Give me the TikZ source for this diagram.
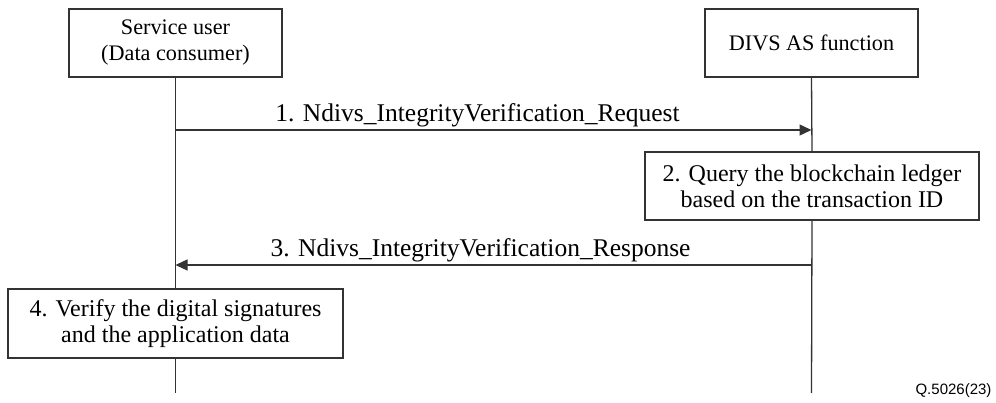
\documentclass[tikz,border=0pt]{standalone}
\usepackage{fontspec}
\setmainfont{Liberation Serif}
\setsansfont{Liberation Sans}
\usetikzlibrary{arrows.meta}
\begin{document}
\begin{tikzpicture}[x=1pt,y=-1pt,
  actorbox/.style={draw=black!80, line width=1.3pt, fill=white, minimum width=213pt, minimum height=68pt, align=center, inner sep=0pt, font=\fontsize{22.2}{26}\selectfont},
  stepbox/.style={draw=black!80, line width=1.3pt, fill=white, minimum height=68pt, align=center, inner sep=0pt, font=\fontsize{24}{26}\selectfont},
  life/.style={draw=black!80, line width=1.3pt},
  msg/.style={draw=black!80, line width=1.3pt, -{Triangle[length=12pt,width=11pt]}},
  msglabel/.style={anchor=base, inner sep=0pt, font=\fontsize{25.5}{28}\selectfont}
]
\useasboundingbox (0,0) rectangle (996,403);
\node[actorbox] (su) at (175.5,43) {Service user\\(Data consumer)};
\node[actorbox] (divs) at (811.5,43) {DIVS AS function};
\coordinate (suend) at (175.5,393);
\coordinate (divsend) at (811.5,393);
\coordinate (a1s) at (175.5,130);
\coordinate (a1e) at (811.5,130);
\coordinate (a3s) at (811.5,265);
\coordinate (a3e) at (175.5,265);
\node[stepbox, minimum width=334pt] (q) at (812,186) {2. Query the blockchain ledger\\based on the transaction ID};
\node[stepbox, minimum width=335pt, minimum height=69pt] (v) at (175.5,323.5) {4. Verify the digital signatures\\and the application data};
\draw[life] (su.south) -- (v.north);
\draw[life] (v.south) -- (suend);
\draw[life] (divs.south) -- (q.north);
\draw[life] (q.south) -- (divsend);
\draw[msg] (a1s) -- (a1e);
\draw[msg] (a3s) -- (a3e);
\node[msglabel] (l1) at (477.5,122) {1. Ndivs\_IntegrityVerification\_Request};
\node[msglabel] (l3) at (480.5,257) {3. Ndivs\_IntegrityVerification\_Response};
\node[font=\sffamily\fontsize{15}{18}\selectfont, inner sep=0pt] (fig) at (953.5,391) {Q.5026(23)};
\end{tikzpicture}
\end{document}
